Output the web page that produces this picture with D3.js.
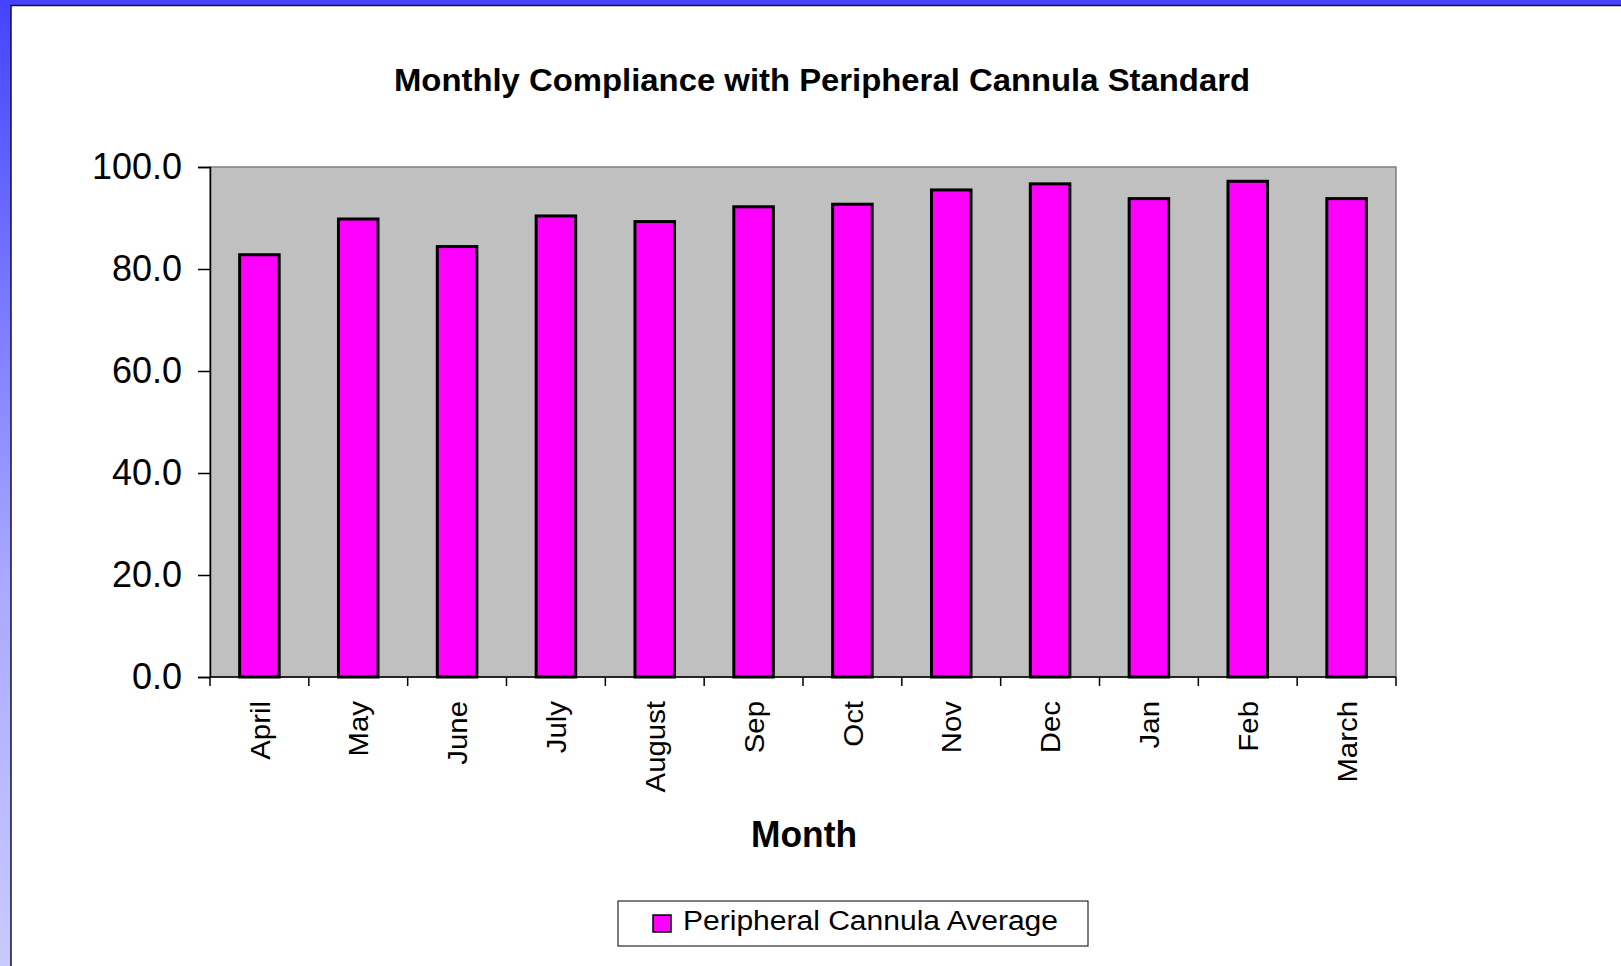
<!DOCTYPE html>
<html>
<head>
<meta charset="utf-8">
<script src="https://cdn.jsdelivr.net/npm/d3@7"></script>
<style>
  body { margin: 0; background: #fff; }
  text { font-family: "Liberation Sans", Arial, sans-serif; fill: #000; }
</style>
</head>
<body>
<div id="chart"></div>
<script>
// chart data
var months = ["April", "May", "June", "July", "August", "Sep", "Oct", "Nov", "Dec", "Jan", "Feb", "March"];
var averages = [82.8, 89.8, 84.4, 90.4, 89.3, 92.2, 92.7, 95.5, 96.7, 93.8, 97.2, 93.8];
var yTicks = [0, 20, 40, 60, 80, 100];
var chartTitle = "Monthly Compliance with Peripheral Cannula Standard";
var xTitle = "Month";
var legendLabel = "Peripheral Cannula Average";

var svgWidth = 1621;
var svgHeight = 966;

// plot area
var margin = { top: 167, right: 225, bottom: 289, left: 210 };
var width = svgWidth - margin.left - margin.right;
var height = svgHeight - margin.top - margin.bottom;

var svg = d3.select("#chart")
  .append("svg")
  .attr("width", svgWidth)
  .attr("height", svgHeight);

// slide frame: blue bands on top and left
var defs = svg.append("defs");
var grad = defs.append("linearGradient")
  .attr("id", "leftBand")
  .attr("x1", 0).attr("y1", 0).attr("x2", 0).attr("y2", 1);
grad.append("stop").attr("offset", "0%").attr("stop-color", "#4444ff");
grad.append("stop").attr("offset", "60%").attr("stop-color", "#a9a9ff");
grad.append("stop").attr("offset", "100%").attr("stop-color", "#c9c9ff");

svg.append("rect").attr("x", 0).attr("y", 0).attr("width", 11).attr("height", svgHeight)
  .attr("fill", "url(#leftBand)");
svg.append("rect").attr("x", 0).attr("y", 0).attr("width", svgWidth).attr("height", 5)
  .attr("fill", "#4444ff");
svg.append("line").attr("x1", 11).attr("x2", svgWidth).attr("y1", 5.5).attr("y2", 5.5)
  .attr("stroke", "#111133").attr("stroke-width", 1.5);
svg.append("line").attr("x1", 11).attr("x2", 11).attr("y1", 5).attr("y2", svgHeight)
  .attr("stroke", "#111133").attr("stroke-width", 1.5);

// title
svg.append("text")
  .attr("x", 822)
  .attr("y", 91)
  .attr("text-anchor", "middle")
  .attr("font-size", 32)
  .attr("font-weight", "bold")
  .attr("textLength", 856)
  .attr("lengthAdjust", "spacingAndGlyphs")
  .text(chartTitle);

var chartGroup = svg.append("g")
  .attr("transform", `translate(${margin.left}, ${margin.top})`);

// scales
var xScale = d3.scaleBand()
  .domain(months)
  .range([0, width])
  .paddingInner(0.6)
  .paddingOuter(0.3);

var yScale = d3.scaleLinear()
  .domain([0, 100])
  .range([height, 0]);

// plot background
chartGroup.append("rect")
  .attr("x", 0).attr("y", 0)
  .attr("width", width).attr("height", height)
  .attr("fill", "#c0c0c0")
  .attr("stroke", "#808080")
  .attr("stroke-width", 1.5);

// bars
chartGroup.selectAll(".bar")
  .data(averages)
  .enter()
  .append("rect")
  .attr("class", "bar")
  .attr("x", (d, i) => xScale(months[i]))
  .attr("y", (d) => yScale(d))
  .attr("width", xScale.bandwidth())
  .attr("height", (d) => height - yScale(d))
  .attr("fill", "#ff00ff")
  .attr("stroke", "#000")
  .attr("stroke-width", 3);

// y axis
var leftAxis = d3.axisLeft(yScale)
  .tickValues(yTicks)
  .tickSize(12)
  .tickPadding(16)
  .tickFormat(d3.format(".1f"));

var yAxis = chartGroup.append("g").call(leftAxis);
yAxis.select(".domain").attr("stroke", "#000").attr("stroke-width", 1.5);
yAxis.selectAll(".tick line").attr("stroke", "#000").attr("stroke-width", 1.5);
yAxis.selectAll("text")
  .attr("font-size", 36)
  .attr("font-family", "Liberation Sans, Arial, sans-serif")
  .attr("fill", "#000");

// x axis: line plus ticks at the band edges
chartGroup.append("line")
  .attr("x1", 0).attr("x2", width)
  .attr("y1", height).attr("y2", height)
  .attr("stroke", "#000").attr("stroke-width", 1.5);

var edges = months.map((m) => xScale(m) - xScale.step() * xScale.paddingOuter());
edges.push(width);
chartGroup.selectAll(".xtick")
  .data(edges)
  .enter()
  .append("line")
  .attr("class", "xtick")
  .attr("x1", (d) => d).attr("x2", (d) => d)
  .attr("y1", height).attr("y2", height + 9)
  .attr("stroke", "#000").attr("stroke-width", 1.5);

// month labels, rotated
chartGroup.selectAll(".xlabel")
  .data(months)
  .enter()
  .append("text")
  .attr("class", "xlabel")
  .attr("font-size", 28)
  .attr("text-anchor", "end")
  .attr("dy", "0.36em")
  .attr("transform", (d) =>
    `translate(${xScale(d) + xScale.bandwidth() / 2}, ${height + 24}) rotate(-90) scale(1.05, 1)`)
  .text((d) => d);

// x axis title
svg.append("text")
  .attr("x", 804)
  .attr("y", 847)
  .attr("text-anchor", "middle")
  .attr("font-size", 37)
  .attr("font-weight", "bold")
  .attr("textLength", 106)
  .attr("lengthAdjust", "spacingAndGlyphs")
  .text(xTitle);

// legend
var legend = svg.append("g").attr("transform", "translate(618, 901)");
legend.append("rect")
  .attr("x", 0).attr("y", 0)
  .attr("width", 470).attr("height", 45)
  .attr("fill", "#fff")
  .attr("stroke", "#000")
  .attr("stroke-width", 1);
legend.append("rect")
  .attr("x", 35).attr("y", 14)
  .attr("width", 18).attr("height", 17)
  .attr("fill", "#ff00ff")
  .attr("stroke", "#000")
  .attr("stroke-width", 1.5);
legend.append("text")
  .attr("x", 65)
  .attr("y", 29)
  .attr("font-size", 27)
  .attr("textLength", 375)
  .attr("lengthAdjust", "spacingAndGlyphs")
  .text(legendLabel);
</script>
</body>
</html>
